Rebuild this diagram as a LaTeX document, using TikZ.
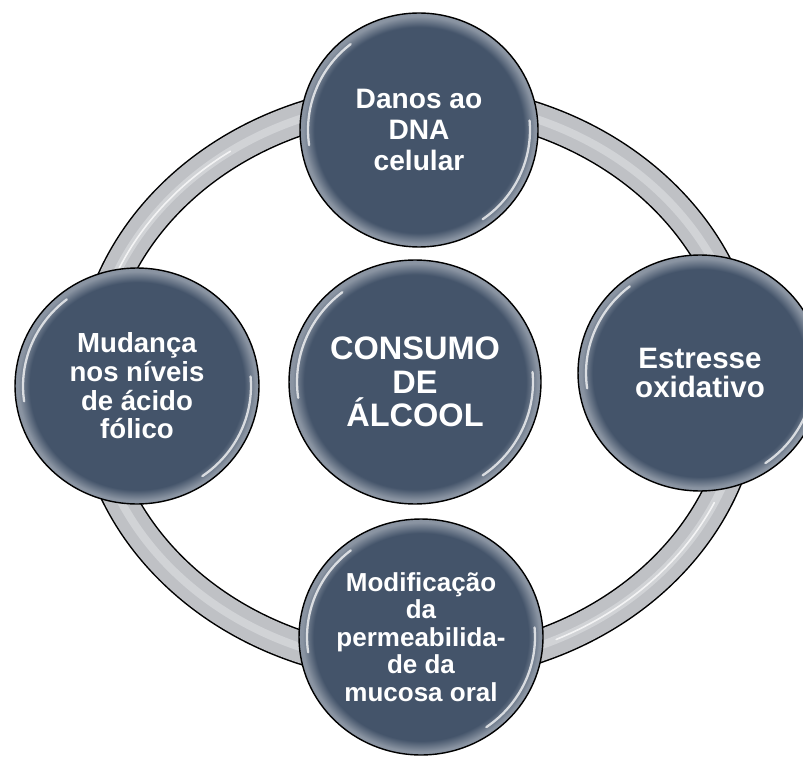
\documentclass[tikz,border=0pt]{standalone}
\usepackage{fontspec}
\setmainfont{Liberation Sans}
\usetikzlibrary{shapes.geometric,positioning}

\definecolor{slate}{HTML}{44546A}
\definecolor{slaterim}{HTML}{8A94A2}
\definecolor{ringgray}{HTML}{BFC1C5}
\definecolor{ringlight}{HTML}{D9DBDE}
\pgfdeclareradialshading{glossy}{\pgfpoint{0bp}{0bp}}{color(0bp)=(slate); color(22bp)=(slate); color(24.3bp)=(slaterim); color(25bp)=(slaterim); color(50bp)=(slaterim)}

\begin{document}
\begin{tikzpicture}[x=0.02cm,y=-0.02cm,
	bubble/.style={ellipse,draw=black,line width=0.8pt,shading=glossy,inner sep=0pt,align=center,text=white,minimum width=4.88cm,minimum height=4.72cm,font=\bfseries\fontsize{16}{17.4}\selectfont},
	hub/.style={bubble,minimum width=5.04cm,minimum height=4.88cm,font=\bfseries\fontsize{18.5}{19.2}\selectfont},
	glint/.style={white,line width=1.3pt,opacity=0.75,line cap=round}]
	\path[use as bounding box,fill=white] (0,0) rectangle (803,756);
	
	\coordinate (ringc) at (418,383);
	\draw[line width=0.68cm,black] (ringc) ellipse [x radius=327,y radius=283];
	\draw[line width=0.62cm,ringgray] (ringc) ellipse [x radius=327,y radius=283];
	\draw[line width=0.16cm,ringlight,opacity=0.7] (ringc) ellipse [x radius=327,y radius=283];
	\foreach \a/\b in {125/165,-65/-25}
		\draw[glint,line width=0.9pt] (ringc) ++(\a:6.54cm and 5.66cm) arc[start angle=\a,end angle=\b,x radius=6.54cm,y radius=5.66cm];
	
	\node[hub]    (alcool)   at (415,382) {CONSUMO\\DE\\ÁLCOOL};
	\node[bubble,minimum width=4.76cm,minimum height=4.68cm] (dna) at (419,130) {Danos ao\\DNA\\celular};
	\node[bubble,font=\bfseries\fontsize{16.8}{16.8}\selectfont] (estresse) at (700,373) {Estresse\\oxidativo};
	\node[bubble,font=\bfseries\fontsize{14.8}{15.6}\selectfont] (mucosa) at (421,637) {Modificação\\da\\permeabilida-\\de da\\mucosa oral};
	\node[bubble,font=\bfseries\fontsize{15.7}{16.3}\selectfont] (folico) at (137,386) {Mudança\\nos níveis\\de ácido\\fólico};
	
	\foreach \n/\rx/\ry in {alcool/2.36/2.28,dna/2.22/2.18,estresse/2.28/2.2,mucosa/2.28/2.2,folico/2.28/2.2}
	{
		\draw[glint] (\n.center) ++(128:\rx cm and \ry cm) arc[start angle=128,end angle=188,x radius=\rx cm,y radius=\ry cm];
		\draw[glint] (\n.center) ++(-55:\rx cm and \ry cm) arc[start angle=-55,end angle=5,x radius=\rx cm,y radius=\ry cm];
	}
\end{tikzpicture}
\end{document}
